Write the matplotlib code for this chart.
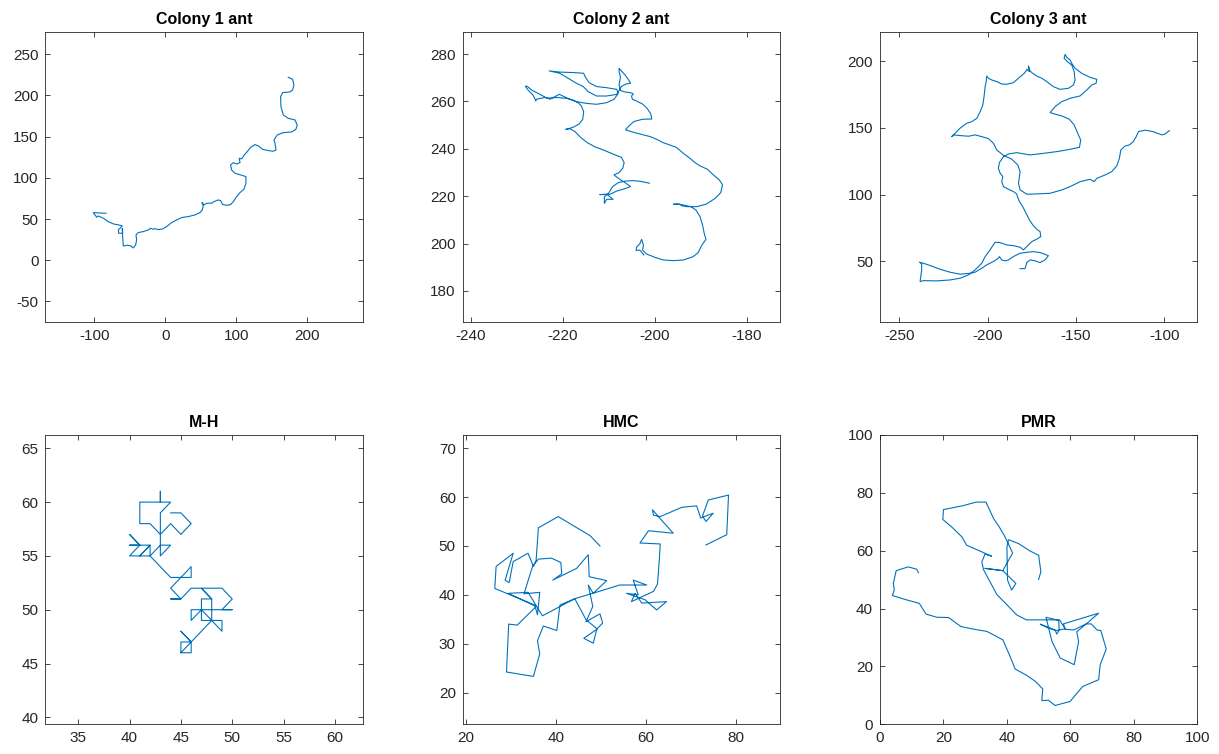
import matplotlib
matplotlib.use("Agg")
import matplotlib.pyplot as plt

plt.rcParams['font.family'] = ['Liberation Sans', 'DejaVu Sans']
plt.rcParams['axes.unicode_minus'] = False

LINE = '#0072BD'

titles = ["Colony 1 ant", "Colony 2 ant", "Colony 3 ant", "M-H", "HMC", "PMR"]

# ---- Colony 1 ant ----
c1_x = [-83.6, -101.4, -96.7, -94.4, -87.3, -80.3, -73.2, -63.8, -60.6, -66.2, -65.7, -60.1, -60.6,
        -60.1, -59.2, -53.5, -48.8, -45.1, -41.8, -40.4, -41.3, -38.0, -31.0, -23.9, -20.7, -16.9,
        -14.6, -9.9, -3.8, 1.9, 8.9, 16.0, 23.0, 32.4, 41.8, 48.8, 52.1, 53.5, 51.6, 54.5, 58.2,
        65.3, 68.5, 74.6, 77.9, 80.8, 86.4, 92.0, 95.8, 100.5, 105.2, 110.8, 113.6, 113.6, 107.5,
        98.1, 93.4, 92.0, 95.8, 100.5, 105.2, 104.2, 107.5, 111.3, 115.5, 120.2, 126.3, 131.0,
        137.1, 145.1, 152.1, 155.9, 154.5, 153.1, 157.7, 166.2, 177.9, 184.0, 185.9, 182.6, 173.2,
        166.2, 162.9, 162.4, 165.3, 175.6, 179.3, 181.2, 179.3, 173.2]
c1_y = [57.0, 57.8, 52.2, 53.8, 51.0, 46.9, 44.1, 42.5, 41.7, 36.8, 32.8, 32.8, 38.8,
        28.7, 17.4, 18.2, 17.4, 15.0, 18.6, 24.7, 30.7, 33.6, 34.8, 36.8, 38.8, 37.6,
        38.4, 37.2, 38.0, 40.9, 45.7, 48.9, 51.8, 53.0, 55.0, 57.8, 61.1, 66.3, 70.0, 67.2, 69.2,
        69.2, 71.2, 73.2, 72.4, 67.6, 66.7, 67.6, 71.2, 77.3, 82.1, 86.2, 93.4, 101.5, 103.2,
        105.6, 109.6, 115.7, 118.5, 116.9, 118.5, 123.8, 123.0, 127.8, 131.9, 137.1, 140.4, 138.8,
        134.7, 133.1, 132.3, 133.9, 142.0, 146.0, 152.1, 154.9, 155.7, 159.0, 164.2, 170.3, 172.3,
        176.4, 186.5, 198.6, 203.5, 204.3, 206.7, 212.8, 219.7, 222.1]

# ---- Colony 2 ant ----
c2_x = [-202.4, -203.3, -204.1, -204.0, -203.3, -202.9, -202.5, -202.7, -201.8, -200.0, -198.2,
        -196.0, -193.8, -191.7, -190.6, -189.8, -188.9, -189.3, -189.6, -190.2, -191.1, -192.2,
        -193.8, -195.3, -196.0, -194.6, -194.2, -193.1, -190.9, -188.8, -186.9, -185.7, -185.3,
        -186.0, -187.3, -188.6, -190.2, -191.3, -192.4, -193.8, -195.4, -196.7, -198.2, -199.6,
        -201.1, -202.9, -204.7, -206.4, -205.8, -204.6, -202.7, -200.7, -200.9, -201.7, -202.7,
        -204.0, -204.9, -205.1, -204.7, -205.3, -206.5, -207.5, -207.8, -207.5, -207.8, -207.8,
        -207.5, -206.5, -205.8, -205.3, -206.3, -207.3, -207.8, -208.3, -210.5, -212.7, -214.5,
        -215.6, -217.1, -218.9, -220.7, -223.0, -220.7, -217.8, -215.5, -215.2, -214.3, -212.7,
        -210.5, -208.3, -208.0, -208.9, -210.5, -212.7, -214.9, -217.1, -218.5, -220.0, -220.8,
        -221.5, -222.9, -223.0, -223.9, -225.8, -225.9, -226.5, -227.6, -228.2, -227.7, -226.8,
        -225.0, -223.4, -221.4, -219.2, -217.8, -216.7, -216.0, -215.5, -215.7, -216.5, -217.8,
        -219.4, -218.5, -217.4, -216.2, -214.7, -213.1, -211.2, -209.1, -207.3, -206.7, -207.0,
        -207.8, -208.9, -208.0, -206.5, -205.3, -206.5, -208.3, -209.8, -212.0, -210.5, -209.1,
        -210.5, -211.0, -211.0, -210.0, -209.2, -208.0, -206.5, -204.7, -202.9, -201.2]
c2_y = [195.2, 197.3, 197.1, 198.5, 199.9, 201.8, 199.4, 197.3, 195.6, 194.2, 193.1,
        192.8, 193.1, 194.5, 196.2, 199.4, 201.8, 204.4, 207.5, 211.4, 214.2, 215.6,
        216.3, 216.7, 216.6, 216.7, 216.0, 215.6, 215.6, 216.7, 219.1, 221.5, 224.8,
        226.9, 229.0, 231.4, 232.8, 234.2, 236.0, 238.1, 240.7, 241.6, 242.6, 244.0,
        245.2, 246.1, 247.0, 248.0, 249.4, 251.5, 252.5, 252.6, 254.7, 257.1, 258.9,
        260.2, 260.9, 262.3, 263.2, 263.7, 264.0, 264.6, 267.0, 270.2, 272.6, 274.0,
        273.3, 271.2, 269.3, 267.7, 267.4, 266.3, 264.6, 263.0, 262.3, 262.3, 264.1,
        266.3, 267.7, 269.8, 271.9, 272.9, 272.4, 272.2, 271.9, 270.5, 267.9, 266.3,
        265.8, 265.1, 263.4, 260.9, 259.5, 258.8, 259.2, 259.9, 260.9, 262.3, 263.0,
        262.3, 260.9, 261.3, 261.7, 260.9, 260.2, 262.7, 264.8, 266.5, 266.3, 264.8,
        263.0, 261.3, 261.7, 261.3, 260.6, 259.5, 258.1, 255.7, 252.5, 250.5, 249.1,
        248.2, 248.5, 247.3, 244.9, 242.6, 240.9, 239.5, 237.8, 236.4, 234.2, 231.8,
        230.0, 229.0, 227.6, 225.7, 224.1, 223.2, 222.2, 220.8, 220.7, 220.8, 218.7,
        218.7, 217.0, 219.8, 221.5, 224.1, 225.7, 226.4, 226.6, 226.2, 225.5]

# ---- Colony 3 ant ----
c3_x = [-181.7, -178.9, -177.9, -176.0, -173.2, -170.4, -167.6, -165.7, -167.6, -170.4, -174.2,
        -177.9, -181.7, -185.5, -188.3, -190.2, -192.1, -193.4, -194.0, -196.8, -200.6, -203.4,
        -207.2, -210.0, -215.7, -221.3, -227.0, -232.6, -236.4, -238.7, -237.4, -237.4, -237.9,
        -238.3, -236.4, -228.9, -221.3, -215.7, -210.9, -207.2, -203.4, -201.5, -198.7, -195.9,
        -193.0, -189.3, -185.5, -181.7, -179.8, -177.9, -175.1, -172.3, -170.0, -170.4, -172.3,
        -174.5, -176.4, -178.3, -180.2, -182.1, -183.2, -183.6, -185.5, -188.3, -191.1, -192.1,
        -191.5, -193.0, -194.0, -193.4, -191.1, -188.3, -183.6, -176.0, -168.5, -160.9, -153.4,
        -148.1, -147.4, -148.7, -151.1, -153.8, -158.1, -162.3, -164.7, -161.9, -158.1, -153.4,
        -147.7, -144.0, -141.1, -138.7, -138.3, -142.1, -146.8, -150.6, -152.5, -153.4, -155.3,
        -156.2, -156.8, -154.3, -152.5, -151.1, -150.6, -151.5, -154.3, -159.1, -162.8, -166.6,
        -169.4, -172.3, -175.1, -176.4, -177.0, -176.4, -177.9, -178.3, -179.4, -182.6, -185.5,
        -189.3, -192.1, -194.9, -197.7, -199.6, -200.6, -200.9, -201.5, -202.1, -202.8, -204.3,
        -206.2, -209.1, -211.9, -215.7, -218.5, -220.4, -219.4, -215.7, -210.9, -207.2, -203.4,
        -199.6, -196.8, -194.9, -191.1, -186.4, -183.0, -181.7, -182.6, -181.7, -177.9, -172.3,
        -164.7, -158.1, -153.4, -147.7, -142.1, -139.8, -138.3, -133.6, -129.8, -127.0, -125.5,
        -124.7, -122.3, -119.8, -117.6, -116.0, -114.7, -110.9, -106.6, -104.0, -101.5, -99.6,
        -97.2]
c3_y = [44.6, 44.6, 49.1, 51.1, 50.4, 49.1, 51.1, 54.3, 55.3, 56.6, 57.3,
        56.8, 56.1, 53.6, 51.1, 50.4, 51.1, 53.6, 52.4, 49.9, 47.4, 44.9,
        41.9, 41.1, 40.4, 41.9, 44.1, 46.9, 48.6, 49.4, 48.1, 43.6, 38.6,
        34.9, 35.6, 35.4, 36.1, 37.4, 39.9, 43.6, 48.6, 53.6, 58.6, 64.3,
        64.1, 62.3, 61.8, 60.6, 58.6, 61.1, 64.8, 66.6, 68.6, 72.3, 74.1,
        77.3, 81.0, 86.0, 91.0, 94.8, 98.5, 100.5, 102.3, 104.0, 106.0, 109.7,
        113.5, 116.0, 119.7, 124.0, 128.4, 130.4, 131.4, 129.7, 130.9, 132.2, 133.9,
        135.4, 140.9, 144.7, 152.2, 156.4, 158.9, 160.4, 161.4, 165.9, 169.6, 172.1,
        173.9, 178.3, 182.1, 183.3, 186.3, 187.8, 190.8, 194.6, 198.3, 200.8, 202.8,
        205.0, 202.1, 198.8, 197.1, 192.1, 185.8, 182.1, 179.6, 178.8, 180.8, 184.6,
        187.1, 188.8, 191.3, 193.3, 196.3, 192.1, 193.8, 192.6, 190.8, 187.1, 183.8,
        182.6, 182.8, 184.6, 185.8, 187.1, 188.8, 184.6, 180.8, 173.4, 167.1, 162.1,
        157.1, 154.6, 153.4, 149.7, 145.9, 143.4, 144.7, 144.2, 143.7, 144.7, 143.4,
        141.9, 138.4, 133.4, 129.4, 126.5, 122.2, 117.2, 108.5, 103.5, 100.3, 100.5,
        101.0, 103.5, 106.0, 109.7, 111.5, 109.7, 112.2, 114.7, 117.2, 121.5, 127.2,
        133.4, 136.4, 137.2, 139.7, 143.4, 147.2, 148.2, 147.2, 145.9, 144.7, 145.4,
        147.9]

# ---- M-H ----
mh_x = [45, 45, 46, 46, 45, 46, 45, 46, 47, 48, 49, 49, 48, 47, 47, 48, 48, 47, 46, 46, 50, 49,
        50, 49, 47, 48, 47, 46, 45, 44, 45, 44, 45, 46, 46, 44, 42, 40, 41, 40, 41, 40, 42, 41,
        42, 42, 43, 44, 43, 43, 42, 41, 41, 43, 43, 43, 44, 43, 43, 44, 45, 46, 45, 44]
mh_y = [46, 47, 47, 46, 46, 47, 48, 47, 48, 49, 48, 49, 49, 49, 51, 51, 49, 50, 49, 50, 50, 50,
        51, 52, 52, 51, 52, 52, 51, 51, 51, 52, 53, 54, 53, 53, 55, 55, 56, 57, 56, 56, 56, 55,
        56, 55, 56, 56, 55, 57, 58, 58, 60, 60, 61, 60, 60, 59, 57, 58, 57, 58, 59, 59]

# ---- HMC ----
hmc_x = [49.8, 47.6, 40.5, 36.1, 35.6, 35.0, 33.8, 30.5, 29.6, 28.7, 30.5, 26.7, 26.4, 35.3,
         35.9, 36.4, 32.9, 34.8, 36.1, 39.0, 41.1, 41.3, 39.3, 44.6, 47.2, 47.4, 51.3, 48.3,
         47.2, 48.2, 46.7, 49.8, 50.4, 49.1, 48.3, 46.2, 49.2, 46.7, 44.2, 40.9, 40.2, 37.2,
         35.9, 36.4, 35.0, 29.0, 29.5, 31.4, 35.6, 29.4, 33.8, 37.0, 44.2, 48.2, 54.2, 60.2,
         57.2, 58.3, 55.7, 59.8, 62.4, 64.6, 59.1, 57.6, 56.8, 61.7, 62.6, 63.0, 63.2, 58.7,
         60.6, 66.1, 62.8, 61.5, 61.7, 63.2, 68.0, 71.3, 72.2, 75.0, 73.4, 72.6, 73.9, 78.4,
         78.0, 73.4]
hmc_y = [50.0, 52.1, 56.0, 53.7, 47.1, 45.8, 48.5, 46.8, 42.5, 43.0, 48.5, 45.8, 41.3, 37.9,
         35.9, 40.5, 40.2, 45.8, 47.3, 47.5, 46.6, 44.3, 43.0, 45.4, 48.2, 43.7, 42.9, 40.3,
         42.0, 37.6, 34.5, 36.1, 34.2, 33.0, 30.1, 31.1, 33.0, 34.9, 39.2, 37.9, 32.7, 33.6,
         30.6, 27.9, 23.3, 24.2, 34.0, 33.8, 37.6, 40.3, 40.5, 35.7, 39.2, 40.3, 42.0, 42.0,
         43.0, 40.0, 40.3, 39.0, 36.9, 38.6, 38.3, 40.3, 38.6, 40.7, 42.2, 47.1, 50.4, 50.6,
         53.1, 52.6, 56.0, 57.4, 56.3, 56.0, 57.9, 58.2, 55.7, 56.7, 55.0, 56.1, 59.4, 60.4,
         52.3, 50.2]

# ---- PMR ----
pmr_x = [12.1, 11.6, 8.9, 5.1, 4.2, 4.5, 3.9, 8.4, 12.4, 14.5, 17.9, 21.6, 25.5, 29.4, 33.7,
         36.3, 38.7, 40.8, 42.6, 46.1, 48.9, 51.3, 51.0, 53.1, 55.2, 59.9, 63.9, 68.9, 69.4,
         71.3, 69.6, 68.4, 66.6, 65.0, 62.0, 62.6, 61.2, 56.8, 54.2, 53.3, 52.3, 56.3, 56.5,
         55.7, 55.2, 50.5, 53.1, 55.5, 57.8, 61.0, 65.0, 68.9, 57.8, 58.4, 56.6, 46.1, 43.1,
         36.8, 32.6, 32.1, 33.1, 35.2, 27.3, 25.8, 22.6, 19.8, 20.0, 26.3, 30.3, 33.4, 35.8,
         37.6, 39.4, 41.8, 38.7, 33.1, 38.7, 42.8, 41.5, 40.2, 40.0, 40.5, 43.6, 47.3, 50.0,
         50.7, 50.0]
pmr_y = [52.4, 53.6, 54.4, 53.1, 48.7, 46.4, 44.5, 43.0, 41.8, 38.1, 37.0, 36.9, 33.8, 32.9,
         32.1, 30.6, 29.2, 24.0, 19.1, 17.0, 14.9, 12.2, 8.2, 8.3, 6.5, 7.9, 13.1, 15.4, 20.6,
         26.0, 32.4, 32.6, 34.7, 34.7, 32.0, 28.6, 20.6, 22.9, 28.6, 32.6, 37.0, 35.9, 32.6,
         31.2, 32.6, 34.6, 33.2, 32.4, 32.9, 32.6, 34.7, 38.4, 34.7, 32.9, 36.1, 36.1, 37.8,
         44.9, 53.5, 56.2, 58.8, 58.1, 61.9, 64.8, 68.2, 70.8, 74.2, 75.6, 76.8, 76.8, 71.1,
         68.2, 64.8, 59.2, 53.1, 53.9, 53.1, 48.7, 46.4, 49.8, 61.3, 63.8, 62.5, 59.9, 58.4,
         52.7, 50.1]

series = [(c1_x, c1_y), (c2_x, c2_y), (c3_x, c3_y), (mh_x, mh_y), (hmc_x, hmc_y), (pmr_x, pmr_y)]

xlims = [(-169, 278), (-241.8, -172.8), (-261, -81.4), (31.8, 62.7), (19.27, 89.86), (0, 100)]
ylims = [(-75, 277), (166.9, 289.3), (4.6, 221.7), (39.35, 66.24), (13.5, 72.7), (0, 100)]
xticks = [[-100, 0, 100, 200], [-240, -220, -200, -180], [-250, -200, -150, -100],
          [35, 40, 45, 50, 55, 60], [20, 40, 60, 80], [0, 20, 40, 60, 80, 100]]
yticks = [[-50, 0, 50, 100, 150, 200, 250], [180, 200, 220, 240, 260, 280], [50, 100, 150, 200],
          [40, 45, 50, 55, 60, 65], [20, 30, 40, 50, 60, 70], [0, 20, 40, 60, 80, 100]]

fig = plt.figure(figsize=(12.19, 7.54), dpi=100)
lefts = [0.0372, 0.3796, 0.7219]
widths = [0.2603, 0.2603, 0.2603]
bottoms = [0.5729, 0.0394]
heights = [0.3846, 0.3837]

for i, (xs, ys) in enumerate(series):
    r, c = divmod(i, 3)
    ax = fig.add_axes([lefts[c], bottoms[r], widths[c], heights[r]])
    ax.plot(xs, ys, color=LINE, lw=0.8)
    ax.set_xlim(*xlims[i])
    ax.set_ylim(*ylims[i])
    ax.set_xticks(xticks[i])
    ax.set_yticks(yticks[i])
    ax.tick_params(direction='in', length=3.5, width=0.6, top=True, right=True,
                   labelsize=11, colors='#262626', pad=5)
    for s in ax.spines.values():
        s.set_color('#262626')
        s.set_linewidth(0.6)
    ax.set_title(titles[i], fontsize=11.5, fontweight='bold', pad=6)

fig.savefig("out.png", dpi=100)
